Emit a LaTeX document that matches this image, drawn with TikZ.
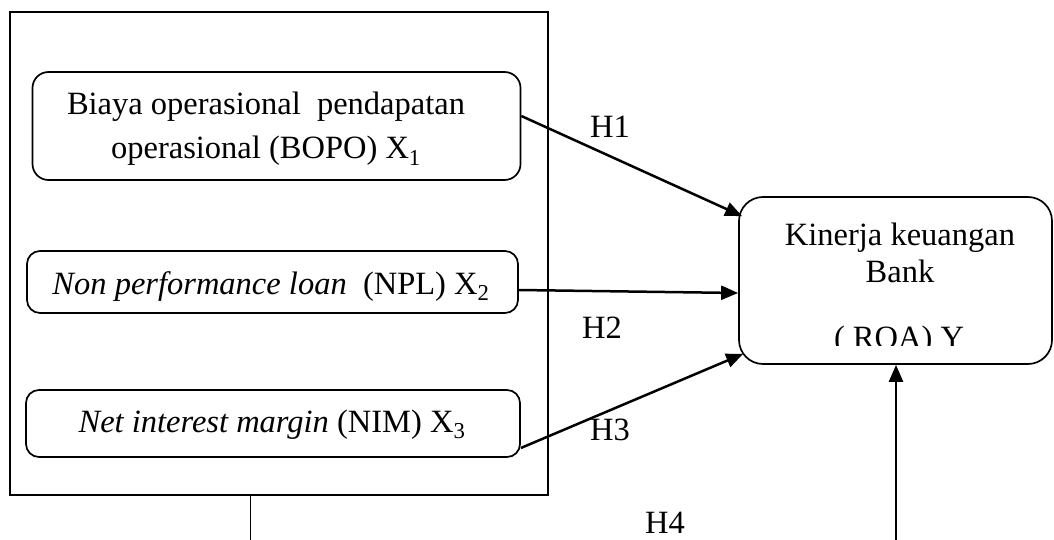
\documentclass[tikz,border=0pt]{standalone}
\usepackage{fontspec}
\setmainfont{Liberation Serif}
\usetikzlibrary{arrows.meta,calc}
\begin{document}
\begin{tikzpicture}[x=1pt,y=-1pt,
  rbox/.style={draw, line width=1.7pt, rounded corners=13pt, inner sep=0pt},
  txt/.style={font=\fontsize{32.5}{44}\selectfont, inner sep=0pt, anchor=base},
  arr/.style={line width=2.5pt, -{Triangle[length=17pt,width=14pt]}}]
\useasboundingbox (0,0) rectangle (1054,540);
\node[draw, line width=2.8pt, minimum width=538pt, minimum height=483pt, inner sep=0pt] (frame) at (279,253.5) {};
\node[rbox, rounded corners=16pt, minimum width=488pt, minimum height=108pt] (b1) at (276.5,126) {};
\node[txt] (t1a) at (266,115) {Biaya operasional\ \ pendapatan};
\node[txt] (t1b) at (266,159) {operasional (BOPO) X\textsubscript{1}};
\node[rbox, minimum width=491pt, minimum height=62pt] (b2) at (272.5,282) {};
\node[txt] (t2) at (271,294) {\textit{Non performance loan}\ \ (NPL) X\textsubscript{2}};
\node[rbox, minimum width=494pt, minimum height=67pt] (b3) at (273,423.5) {};
\node[txt] (t3) at (272,432) {\textit{Net interest margin} (NIM) X\textsubscript{3}};
\node[rbox, rounded corners=24pt, minimum width=313pt, minimum height=167pt] (y) at (895.5,280.5) {};
\node[txt] (ty1) at (900,245) {Kinerja keuangan};
\node[txt] (ty2) at (900,282) {Bank};
\begin{scope}
\clip (700,0) rectangle (1054,345);
\node[txt] (ty3) at (899,348) {( ROA) Y};
\end{scope}
\node[txt] (h1) at (610,138) {H1};
\node[txt] (h2) at (602,338) {H2};
\node[txt] (h3) at (610,440) {H3};
\node[txt] (h4) at (665,533) {H4};
\draw[arr] ($(b1.east)+(0,-10)$) -- ($(y.north west)+(4,20)$);
\draw[arr] ($(b2.east)+(0,8)$) -- ($(y.west)+(0,12.5)$);
\draw[arr] ($(b3.east)+(0,24.5)$) -- ($(y.south west)+(5,-11)$);
\coordinate (h4s) at (896,540);
\draw[arr] (h4s) -- (h4s |- y.south);
\coordinate (fl) at (250,540);
\draw[line width=1pt] (fl) -- (fl |- frame.south);
\end{tikzpicture}
\end{document}
